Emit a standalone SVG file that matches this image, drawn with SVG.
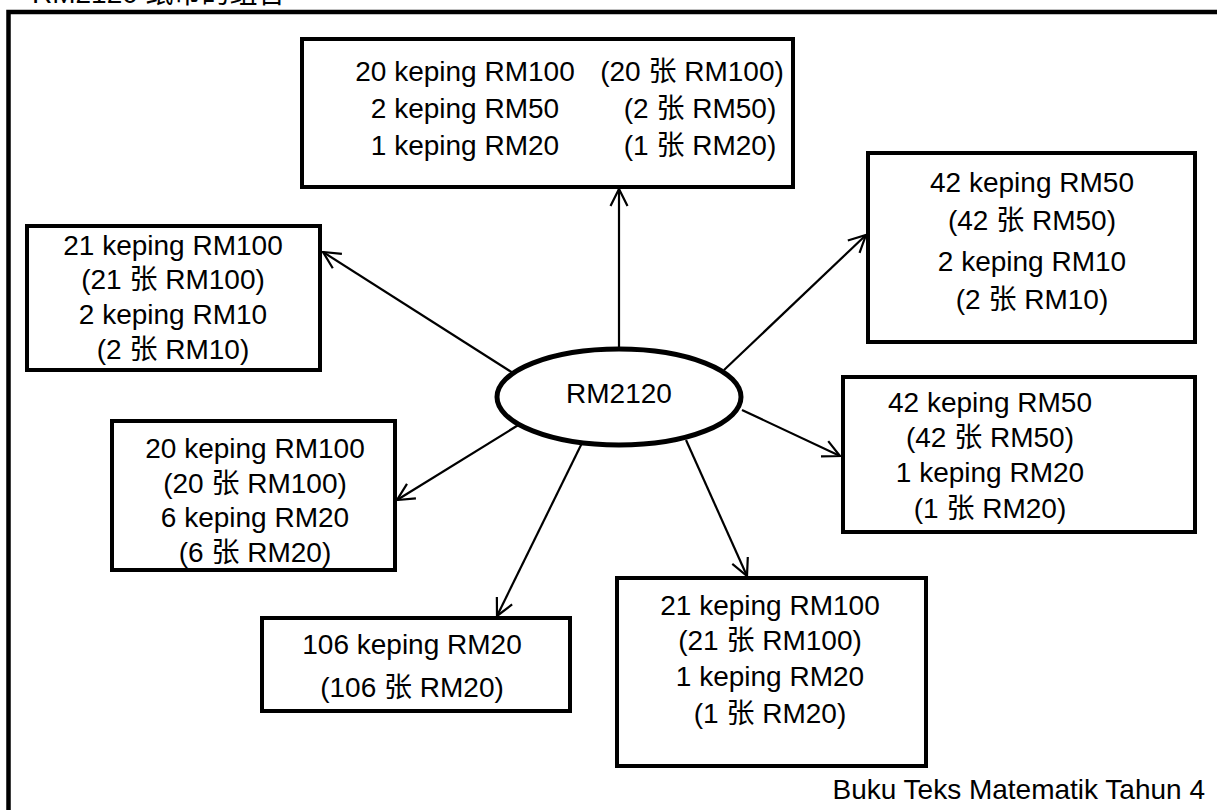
<svg xmlns="http://www.w3.org/2000/svg" width="1217" height="810" viewBox="0 0 1217 810">
  <style>
    .box { fill: #fff; stroke: #000; stroke-width: 4; }
    .hub { fill: #fff; stroke: #000; stroke-width: 5; }
    .t { font-family: "Liberation Sans", Arial, "Noto Sans CJK SC", sans-serif; font-size: 28px; fill: #000; text-anchor: middle; }
    .link { stroke: #000; stroke-width: 2.2; fill: none; marker-end: url(#arrow); }
  </style>
  <defs>
    <marker id="arrow" viewBox="0 0 20 20" refX="19" refY="10" markerWidth="20" markerHeight="20" markerUnits="userSpaceOnUse" orient="auto">
      <path d="M2,1.5 L19,10 L2,18.5" fill="none" stroke="#000" stroke-width="2.2"/>
    </marker>
  </defs>
  <rect width="1217" height="810" fill="#fff"/>

  <!-- heading, cut by the top edge of the page -->
  <text class="t" x="32" y="3" style="text-anchor:start">RM2120 纸币的组合</text>

  <!-- outer frame -->
  <rect x="8.5" y="12" width="1260" height="860" fill="none" stroke="#000" stroke-width="4.5"/>

  <g id="connectors">
    <line class="link" x1="619" y1="347" x2="619" y2="189"/>
    <line class="link" x1="513" y1="373" x2="323" y2="252"/>
    <line class="link" x1="724" y1="370" x2="866" y2="235"/>
    <line class="link" x1="742" y1="410" x2="840" y2="456"/>
    <line class="link" x1="520" y1="424" x2="397" y2="500"/>
    <line class="link" x1="582" y1="443" x2="497" y2="616"/>
    <line class="link" x1="686" y1="440" x2="747" y2="576"/>
  </g>

  <g id="hub">
    <ellipse class="hub" cx="619" cy="397" rx="122" ry="48"/>
    <text class="t" x="619" y="403">RM2120</text>
  </g>

  <g id="node-top">
    <rect class="box" x="302" y="39" width="491" height="148"/>
    <text class="t" x="465" y="81">20 keping RM100</text>
    <text class="t" x="465" y="118">2 keping RM50</text>
    <text class="t" x="465" y="155">1 keping RM20</text>
    <text class="t" x="692" y="81">(20 张 RM100)</text>
    <text class="t" x="700" y="118">(2 张 RM50)</text>
    <text class="t" x="700" y="155">(1 张 RM20)</text>
  </g>

  <g id="node-left">
    <rect class="box" x="27" y="226" width="293" height="144"/>
    <text class="t" x="173" y="255">21 keping RM100</text>
    <text class="t" x="173" y="289">(21 张 RM100)</text>
    <text class="t" x="173" y="324">2 keping RM10</text>
    <text class="t" x="173" y="359">(2 张 RM10)</text>
  </g>

  <g id="node-right-top">
    <rect class="box" x="868" y="153" width="327" height="189"/>
    <text class="t" x="1032" y="192">42 keping RM50</text>
    <text class="t" x="1032" y="230">(42 张 RM50)</text>
    <text class="t" x="1032" y="271">2 keping RM10</text>
    <text class="t" x="1032" y="309">(2 张 RM10)</text>
  </g>

  <g id="node-right-mid">
    <rect class="box" x="843" y="377" width="352" height="155"/>
    <text class="t" x="990" y="412">42 keping RM50</text>
    <text class="t" x="990" y="447">(42 张 RM50)</text>
    <text class="t" x="990" y="482">1 keping RM20</text>
    <text class="t" x="990" y="518">(1 张 RM20)</text>
  </g>

  <g id="node-left-mid">
    <rect class="box" x="112" y="421" width="283" height="149"/>
    <text class="t" x="255" y="458">20 keping RM100</text>
    <text class="t" x="255" y="493">(20 张 RM100)</text>
    <text class="t" x="255" y="527">6 keping RM20</text>
    <text class="t" x="255" y="562">(6 张 RM20)</text>
  </g>

  <g id="node-bottom-left">
    <rect class="box" x="262" y="618" width="308" height="93"/>
    <text class="t" x="412" y="654">106 keping RM20</text>
    <text class="t" x="412" y="697">(106 张 RM20)</text>
  </g>

  <g id="node-bottom-right">
    <rect class="box" x="617" y="578" width="309" height="188"/>
    <text class="t" x="770" y="615">21 keping RM100</text>
    <text class="t" x="770" y="650">(21 张 RM100)</text>
    <text class="t" x="770" y="686">1 keping RM20</text>
    <text class="t" x="770" y="723">(1 张 RM20)</text>
  </g>

  <text class="t" x="1205" y="799" style="text-anchor:end">Buku Teks Matematik Tahun 4</text>
</svg>
